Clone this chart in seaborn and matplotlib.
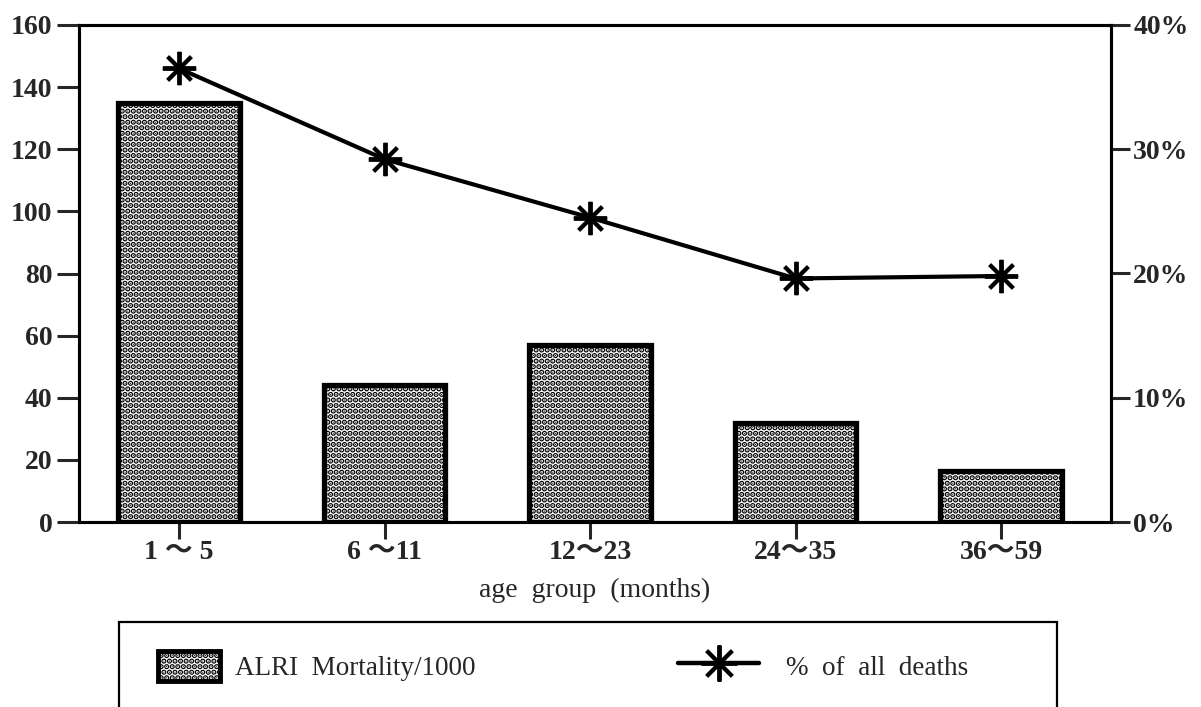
import matplotlib
matplotlib.use("Agg")
import matplotlib.pyplot as plt
import seaborn as sns
import pandas as pd
from matplotlib.patches import Patch, Rectangle
from matplotlib.lines import Line2D
from matplotlib.ticker import FuncFormatter

# ---- data ----
age_groups = ['1 ～ 5', '6 ～11', '12～23', '24～35', '36～59']
mortality = [135, 44, 57, 32, 16.5]
pct_deaths = [36.5, 29.2, 24.5, 19.6, 19.8]
left_ticks = [0, 20, 40, 60, 80, 100, 120, 140, 160]
right_ticks = [0, 10, 20, 30, 40]
bar_label = 'ALRI  Mortality/1000'
line_label = '%  of  all  deaths'
xlabel = 'age  group  (months)'

sns.set_style('ticks')
plt.rcParams['font.family'] = ['Liberation Serif', 'Noto Sans CJK JP']
plt.rcParams['hatch.color'] = 'black'
plt.rcParams['hatch.linewidth'] = 2.8

df = pd.DataFrame({'age': age_groups, 'mort': mortality, 'pct': pct_deaths})

fig = plt.figure(figsize=(12.01, 7.07), dpi=100)
ax = fig.add_axes([79/1201, 1-522/707, (1111-79)/1201, (522-25)/707])

sns.barplot(data=df, x='age', y='mort', ax=ax, color='white', width=0.59,
            edgecolor='black', linewidth=3.8, hatch='...', saturation=1)

ax2 = ax.twinx()
sns.pointplot(data=df, x='age', y='pct', ax=ax2, color='black',
              markers=(8, 2, 0), linestyles='-', markersize=24,
              markeredgewidth=2.8, linewidth=3.0)

for a in (ax, ax2):
    a.set_xlim(-0.487, 4.535)
ax.set_ylim(0, 160)
ax2.set_ylim(0, 40)
ax.set_yticks(left_ticks)
ax2.set_yticks(right_ticks)
ax2.yaxis.set_major_formatter(FuncFormatter(lambda v, p: f'{int(v)}%'))

for a in (ax, ax2):
    for s in a.spines.values():
        s.set_linewidth(2.2)
        s.set_color('black')
        s.set_visible(True)

ax.tick_params(axis='y', direction='out', length=16, width=2.2, labelsize=20, pad=3)
ax.tick_params(axis='x', direction='out', length=12, width=2.2, labelsize=20, pad=1)
ax2.tick_params(axis='y', direction='out', length=14, width=2.2, labelsize=20, pad=2)
for lab in ax.get_yticklabels() + ax.get_xticklabels() + ax2.get_yticklabels():
    lab.set_fontweight('bold')

ax.set_ylabel('')
ax2.set_ylabel('')
ax.set_xlabel(xlabel, fontsize=20, labelpad=9)
ax.grid(False)
ax2.grid(False)

# legend
h1 = Patch(facecolor='white', edgecolor='black', hatch='...', linewidth=3.5)
h2 = Line2D([], [], color='black', linewidth=3.2, marker=(8, 2, 0),
            markersize=26, markeredgewidth=2.8)
fig.legend([h1], [bar_label], loc='upper left', frameon=False, borderpad=0,
           borderaxespad=0, bbox_to_anchor=(158/1201, 1-651/707), fontsize=19.5,
           handlelength=2.3, handleheight=1.35, handletextpad=0.55)
fig.legend([h2], [line_label], loc='upper left', frameon=False, borderpad=0,
           borderaxespad=0, bbox_to_anchor=(678/1201, 1-651/707), fontsize=19.5,
           handlelength=3.0, handleheight=1.35, handletextpad=1.0)
fig.patches.append(Rectangle((119/1201, -0.02), (1057-119)/1201, (707-622)/707 + 0.02,
                             transform=fig.transFigure, fill=False,
                             edgecolor='black', linewidth=1.6, clip_on=False))

fig.savefig('out.png', dpi=100, facecolor='white')
